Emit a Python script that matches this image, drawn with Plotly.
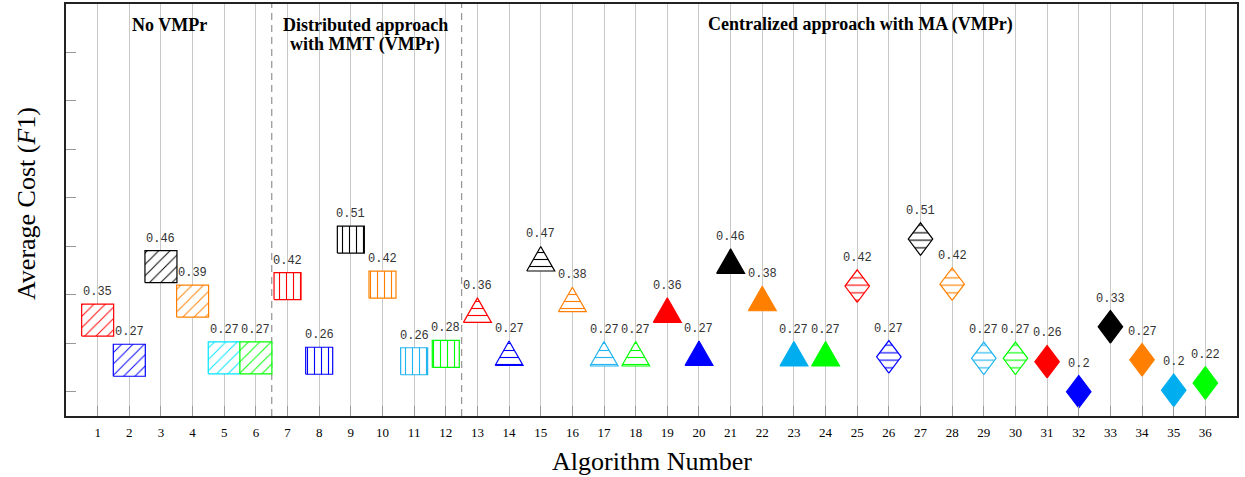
import plotly.graph_objects as go

# ---------------- data ----------------
algorithms = list(range(1, 37))
avg_cost = [0.348, 0.265, 0.458, 0.387, 0.27, 0.27,
            0.418, 0.264, 0.514, 0.421, 0.263, 0.278,
            0.36, 0.271, 0.466, 0.382, 0.27, 0.27,
            0.36, 0.271, 0.461, 0.384, 0.27, 0.27,
            0.418, 0.272, 0.515, 0.422, 0.269, 0.269,
            0.262, 0.2, 0.334, 0.266, 0.203, 0.218]
cost_labels = ["0.35", "0.27", "0.46", "0.39", "0.27", "0.27",
               "0.42", "0.26", "0.51", "0.42", "0.26", "0.28",
               "0.36", "0.27", "0.47", "0.38", "0.27", "0.27",
               "0.36", "0.27", "0.46", "0.38", "0.27", "0.27",
               "0.42", "0.27", "0.51", "0.42", "0.27", "0.27",
               "0.26", "0.2", "0.33", "0.27", "0.2", "0.22"]
y_ticks = [0.2, 0.3, 0.4, 0.5, 0.6, 0.7, 0.8, 0.9]
group_titles = [("No VMPr", 3.28, 25), ("Distributed approach", 9.46, 25),
                ("with MMT (VMPr)", 9.46, 45),
                ("Centralized approach with MA (VMPr)", 25.09, 25)]
x_title = "Algorithm Number"
y_title = "Average Cost (<i>F</i>1)"
group_size = 6
separators = [6.5, 12.5]

# ---------------- styles ----------------
W, H = 1245, 477
ML, MR, MT, MB = 66, 8, 4, 61
XR = [0, 37]
YR = [0.15, 1.0]
PW, PH = W - ML - MR, H - MT - MB
px_x = PW / (XR[1] - XR[0])
px_y = PH / (YR[1] - YR[0])

palette = ["#FF0000", "#0000FF", "#000000", "#FF8000", "#00AEEF", "#00FF00"]
group_styles = [
    dict(shape="square", w=32, h=32, pattern="/", psize=8, sol=0.12, cyan="#00E5FF"),
    dict(shape="square", w=27, h=27, pattern="|", psize=7, sol=0.16, cyan="#20B4F0"),
    dict(shape="triangle", w=28, h=24.5, pattern="-", psize=7, sol=0.16, cyan="#20B4F0"),
    dict(shape="triangle", w=28, h=24.5, pattern=None, cyan="#00AEEF"),
    dict(shape="diamond", w=24.5, h=32.5, pattern="-", psize=7.5, sol=0.15, cyan="#20B4F0"),
    dict(shape="diamond", w=24.5, h=32.5, pattern=None, cyan="#00AEEF"),
]


def template(shape, w, h):
    if shape == "square":
        return [(-w / 2, -h / 2), (w / 2, -h / 2), (w / 2, h / 2), (-w / 2, h / 2), (-w / 2, -h / 2)], h / 2
    if shape == "triangle":
        return [(-w / 2, -h / 3), (w / 2, -h / 3), (0, 2 * h / 3), (-w / 2, -h / 3)], 2 * h / 3
    return [(0, -h / 2), (w / 2, 0), (0, h / 2), (-w / 2, 0), (0, -h / 2)], h / 2


fig = go.Figure()
annotations = []
for i, (xa, ya, lab) in enumerate(zip(algorithms, avg_cost, cost_labels)):
    g = group_styles[i // group_size]
    k = i % group_size
    color = g["cyan"] if k == 4 else palette[k]
    pts, top = template(g["shape"], g["w"], g["h"])
    xs = [xa + dx / px_x for dx, dy in pts]
    ys = [ya + dy / px_y for dx, dy in pts]
    tr = dict(x=xs, y=ys, mode="lines", fill="toself",
              line=dict(color=color, width=1.2), hoverinfo="skip", showlegend=False)
    if g["pattern"]:
        tr["fillcolor"] = "white"
        tr["fillpattern"] = dict(shape=g["pattern"], fgcolor=color, bgcolor="white",
                                 size=g["psize"], solidity=g["sol"], fillmode="replace")
    else:
        tr["fillcolor"] = color
    fig.add_trace(go.Scatter(**tr))
    annotations.append(dict(x=xa, y=ya, xref="x", yref="y", text=lab, showarrow=False,
                            yshift=top + 12, yanchor="middle",
                            font=dict(family="Liberation Mono", size=12, color="#333")))

for txt, gx, gy in group_titles:
    annotations.append(dict(x=gx, y=1 - (gy - MT) / PH, xref="x", yref="paper",
                            text="<b>%s</b>" % txt, showarrow=False, yanchor="middle",
                            font=dict(family="Liberation Serif", size=18, color="black")))

# axis titles
annotations.append(dict(x=0.5, y=-(461 - (H - MB)) / PH, xref="paper", yref="paper",
                        text=x_title, showarrow=False, yanchor="middle", xanchor="center",
                        font=dict(family="Liberation Serif", size=26, color="black")))
annotations.append(dict(x=(26 - ML) / PW, y=1 - (204 - MT) / PH, xref="paper", yref="paper",
                        text=y_title, showarrow=False, textangle=-90,
                        yanchor="middle", xanchor="center",
                        font=dict(family="Liberation Serif", size=26, color="black")))

shapes = [dict(type="line", x0=s, x1=s, y0=0, y1=1, xref="x", yref="paper",
               line=dict(color="#9a9a9a", width=1.3, dash="7px,5px"), layer="below")
          for s in separators]

fig.update_layout(
    width=W, height=H, margin=dict(l=ML, r=MR, t=MT, b=MB, autoexpand=False),
    paper_bgcolor="white", plot_bgcolor="white",
    annotations=annotations, shapes=shapes,
    xaxis=dict(range=XR, tickvals=algorithms, ticks="inside", ticklen=10, tickwidth=1.2,
               tickcolor="#999", showgrid=True, gridcolor="#c8c8c8", gridwidth=1.3,
               showline=True, linecolor="#222", linewidth=1.5, mirror=True, zeroline=False,
               automargin=False,
               tickfont=dict(family="Liberation Serif", size=13, color="black"),
               ticklabelstandoff=4),
    yaxis=dict(range=YR, tickvals=y_ticks, showticklabels=False, ticks="inside", ticklen=10,
               tickwidth=1.2, tickcolor="#999", showgrid=False, zeroline=False,
               automargin=False,
               showline=True, linecolor="#222", linewidth=1.5, mirror=True),
)

fig.write_html("out.html", config={"displayModeBar": False},
               post_script="document.body.style.margin='0';document.body.style.overflow='hidden';")
